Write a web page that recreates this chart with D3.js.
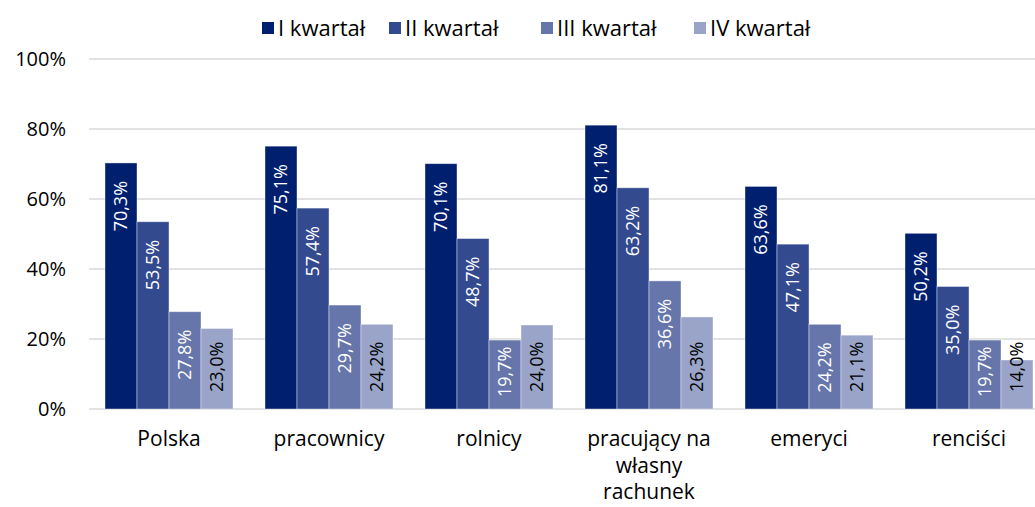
<!DOCTYPE html>
<html>
<head>
<meta charset="utf-8">
<script src="https://cdn.jsdelivr.net/npm/d3@7"></script>
<style>
  body { margin: 0; background: #fff; }
  text { font-family: "Open Sans", "Noto Sans", sans-serif; }
</style>
</head>
<body>
<svg width="1035" height="507"></svg>
<script>
var categories = ["Polska", "pracownicy", "rolnicy", "pracujący na własny rachunek", "emeryci", "renciści"];
var seriesNames = ["I kwartał", "II kwartał", "III kwartał", "IV kwartał"];
var q1 = [70.3, 75.1, 70.1, 81.1, 63.6, 50.2];
var q2 = [53.5, 57.4, 48.7, 63.2, 47.1, 35.0];
var q3 = [27.8, 29.7, 19.7, 36.6, 24.2, 19.7];
var q4 = [23.0, 24.2, 24.0, 26.3, 21.1, 14.0];
var yTicks = [0, 20, 40, 60, 80, 100];

main();

function main() {
  var svg = d3.select("svg");
  var color = ["#00206f", "#334a8f", "#6676aa", "#99a4c8"];
  var labelColor = ["#fff", "#fff", "#fff", "#000"];
  var values = [q1, q2, q3, q4];

  var x = d3.scaleBand().domain(categories).range([89, 1049]);
  var x1 = d3.scaleBand().domain(seriesNames).range([16, 144]);
  var y = d3.scaleLinear().domain([0, 100]).range([409, 59]);
  var fmt = function(v) { return d3.format(".1f")(v).replace(".", ",") + "%"; };

  // grid
  svg.append("g")
    .selectAll("line")
    .data(yTicks)
    .enter().append("line")
    .attr("x1", 89).attr("x2", 1035)
    .attr("y1", function(d) { return y(d); })
    .attr("y2", function(d) { return y(d); })
    .attr("stroke", "#d9d9d9")
    .attr("stroke-width", 1.5);

  svg.append("g")
    .selectAll("text")
    .data(yTicks)
    .enter().append("text")
    .attr("x", 66)
    .attr("y", function(d) { return y(d); })
    .attr("dy", "0.36em")
    .attr("text-anchor", "end")
    .style("font-size", "20px")
    .attr("fill", "#000")
    .text(function(d) { return d + "%"; });

  var rows = [];
  categories.forEach(function(c, i) {
    seriesNames.forEach(function(s, j) {
      rows.push({ cat: c, s: s, j: j, v: values[j][i] });
    });
  });

  svg.append("g")
    .selectAll("rect")
    .data(rows)
    .enter().append("rect")
    .attr("x", function(d) { return x(d.cat) + x1(d.s); })
    .attr("y", function(d) { return y(d.v); })
    .attr("width", x1.bandwidth())
    .attr("height", function(d) { return y(0) - y(d.v); })
    .attr("fill", function(d) { return color[d.j]; })
    .attr("stroke", "#fff")
    .attr("stroke-opacity", 0.5)
    .attr("stroke-width", 0.8);

  // value labels, rotated
  var base = y(0);
  svg.append("g")
    .selectAll("text")
    .data(rows)
    .enter().append("text")
    .style("font-size", "18px")
    .attr("fill", function(d) { return labelColor[d.j]; })
    .text(function(d) { return fmt(d.v); })
    .each(function(d) {
      var t = d3.select(this);
      var len = this.getComputedTextLength();
      var cx = x(d.cat) + x1(d.s) + x1.bandwidth() / 2;
      var bottom;
      if (d.j == 3) {
        bottom = base - 17;
      } else {
        bottom = Math.min(y(d.v) + 18 + len, base - 12);
      }
      t.attr("text-anchor", "start")
        .attr("dy", "0.36em")
        .attr("transform", "translate(" + cx + "," + bottom + ") rotate(-90)");
    });

  // category labels with wrapping
  var cats = svg.append("g")
    .selectAll("text")
    .data(categories)
    .enter().append("text")
    .attr("x", function(d) { return x(d) + x.bandwidth() / 2; })
    .attr("y", 446)
    .attr("text-anchor", "middle")
    .style("font-size", "21px")
    .attr("fill", "#000");

  cats.each(function(d) {
    var t = d3.select(this);
    var words = d.split(" ");
    var lines = [], line = [];
    var probe = t.append("tspan");
    words.forEach(function(w) {
      line.push(w);
      probe.text(line.join(" "));
      if (probe.node().getComputedTextLength() > 140 && line.length > 1) {
        line.pop();
        lines.push(line.join(" "));
        line = [w];
      }
    });
    lines.push(line.join(" "));
    probe.remove();
    lines.forEach(function(l, k) {
      t.append("tspan")
        .attr("x", x(d) + x.bandwidth() / 2)
        .attr("dy", k == 0 ? 0 : 26.5)
        .text(l);
    });
  });

  // legend
  var legX = [262, 389, 541, 694];
  var leg = svg.append("g")
    .selectAll("g")
    .data(seriesNames)
    .enter().append("g")
    .attr("transform", function(d, i) { return "translate(" + legX[i] + ",22)"; });
  leg.append("rect")
    .attr("width", 12).attr("height", 12)
    .attr("fill", function(d, i) { return color[i]; });
  leg.append("text")
    .attr("x", 16).attr("y", 6)
    .attr("dy", "0.36em")
    .style("font-size", "22px")
    .attr("fill", "#000")
    .text(function(d) { return d; });
}
</script>
</body>
</html>
